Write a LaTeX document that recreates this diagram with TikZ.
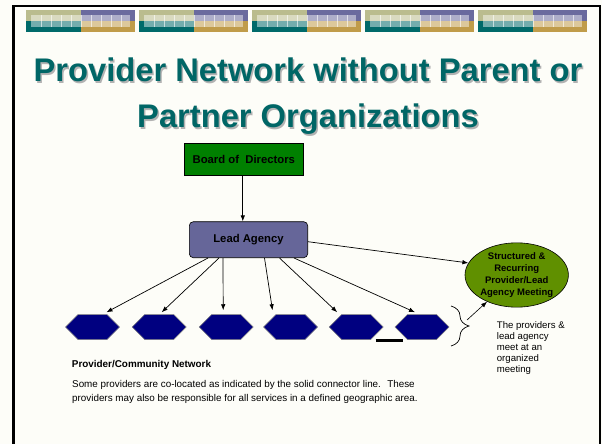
\documentclass[tikz,border=0pt]{standalone}
\usepackage{fontspec}
\setmainfont{Liberation Sans}
\usepackage{tikz}
\usetikzlibrary{shapes.geometric,shapes.symbols,arrows.meta,decorations.pathreplacing}
\definecolor{slidebg}{RGB}{253,253,248}
\definecolor{titleteal}{RGB}{0,102,102}
\definecolor{boardgreen}{RGB}{0,128,0}
\definecolor{leadpurple}{RGB}{102,102,153}
\definecolor{meetolive}{RGB}{96,144,0}
\definecolor{hexnavy}{RGB}{0,0,128}
\definecolor{barkhaki}{RGB}{186,188,142}
\definecolor{barlav}{RGB}{106,106,158}
\definecolor{barteal}{RGB}{0,106,106}
\definecolor{bargold}{RGB}{192,156,74}
\newcommand{\titlefont}{\fontsize{32.7}{46}\selectfont\bfseries}
\tikzset{
  boardbox/.style={draw=black, line width=0.6, fill=boardgreen, minimum width=119, minimum height=32.4, inner sep=0, font=\fontsize{11.3}{13}\selectfont\bfseries},
  leadbox/.style={draw=black, line width=0.6, rounded corners=4, fill=leadpurple, minimum width=118.4, minimum height=36, inner sep=0, font=\fontsize{11.3}{13}\selectfont\bfseries},
  meetell/.style={ellipse, draw=black, line width=0.6, fill=meetolive, minimum width=103.4, minimum height=64, inner sep=0, align=center, font=\fontsize{9.5}{12.2}\selectfont\bfseries},
  hexa/.style={signal, signal to=east and west, signal pointer angle=90, draw=gray, line width=0.5, fill=hexnavy, minimum width=54, minimum height=25, inner sep=0},
  link/.style={-{Latex[length=6,width=4.5]}, line width=0.7},
}

\begin{document}
\begin{tikzpicture}[x=1pt, y=-1pt]
	\useasboundingbox (0,0) rectangle (602,444);
	\clip (0,0) rectangle (602,444);
	\fill[slidebg] (0,0) rectangle (602,444);
	\draw[line width=2.2] (13.5,6) rectangle (600.2,470);
	% header bars
	\foreach \bx in {26,139,252,365,478}{
		\fill[barkhaki] (\bx,10) rectangle ++(55,11);
		\fill[barlav] (\bx+55,10) rectangle ++(54,11);
		\fill[barteal] (\bx,21) rectangle ++(55,11);
		\fill[bargold] (\bx+55,21) rectangle ++(54,11);
		\fill[white, opacity=0.45] (\bx+5,15) rectangle ++(99,12);
		\foreach \gx in {10,20,...,90} \draw[white, opacity=0.6, line width=0.4] (\bx+5+\gx,15) -- ++(0,12);
	}
	\node[text=gray!60, font=\titlefont, align=center] (titleshade) at (309.5,98) {Provider Network without Parent or\\Partner Organizations};
	\node[text=titleteal, font=\titlefont, align=center] (title) at (308,96.5) {Provider Network without Parent or\\Partner Organizations};

	\node[boardbox] (board) at (243.8,159.5) {Board of~ Directors};
	\node[leadbox] (lead) at (248.5,239.7) {Lead Agency};
	\node[meetell] (meet) at (516.7,275) {Structured \&\\Recurring\\Provider/Lead\\Agency Meeting};
	\foreach \n/\hx in {1/92.5,2/159.2,3/226.2,4/290.5,5/356.2,6/422}
		\node[hexa] (h\n) at (\hx,327) {};

	\draw[link] ([xshift=-1]board.south) -- ([xshift=-1]board.south |- lead.north);
	\draw[link] ([yshift=-2]lead.east) -- (meet.166);
	\draw[link] ([xshift=-40.5]lead.south) -- ([xshift=14,yshift=2]h1.north);
	\draw[link] ([xshift=-29.5]lead.south) -- ([xshift=2.5,yshift=2]h2.north);
	\draw[link] ([xshift=-25.5]lead.south) -- ([xshift=-3,yshift=4]h3.north);
	\draw[link] ([xshift=16]lead.south) -- ([xshift=-18,yshift=4]h4.north);
	\draw[link] ([xshift=31]lead.south) -- ([xshift=-19,yshift=2]h5.north);
	\draw[link] ([xshift=45.5]lead.south) -- ([xshift=-7,yshift=2]h6.north);
	\draw[line width=2.2] ([xshift=19.5,yshift=-0.8]h5.south) -- ([xshift=-18.7,yshift=-0.8]h6.south);

	\coordinate (btop) at (451,306);
	\coordinate (bbot) at (451,346);
	\coordinate (btip) at (467,320);
	\draw[decorate, decoration={brace, amplitude=18}, line width=0.7] (btop) -- (bbot);
	\draw[link, line width=0.6] (btip) -- (meet.222);

	\node[anchor=north west, align=left, inner sep=0, font=\fontsize{9.6}{11}\selectfont] (meetnote) at (496.7,321.5) {The providers \&\\lead agency\\meet at an\\organized\\meeting};
	\node[anchor=west, inner sep=0, font=\fontsize{9.9}{12}\selectfont\bfseries] (netlabel) at (71.7,365) {Provider/Community Network};
	\node[anchor=north west, align=left, inner sep=0, font=\fontsize{9.85}{13.3}\selectfont] (netnote) at (72,380.4) {Some providers are co-located as indicated by the solid connector line.~ These\\providers may also be responsible for all services in a defined geographic area.};
\end{tikzpicture}
\end{document}
